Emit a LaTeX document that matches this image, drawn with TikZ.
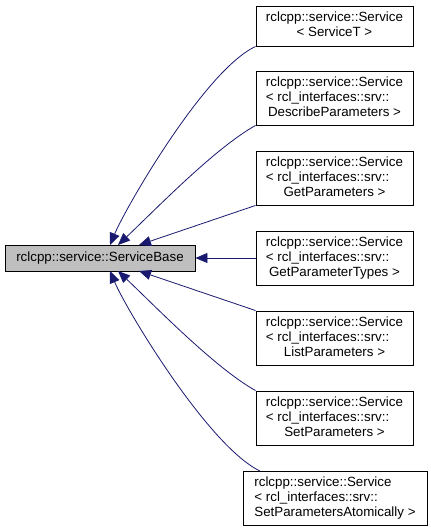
\documentclass[tikz,border=0pt]{standalone}
\usepackage{fontspec}
\setmainfont{Liberation Sans}
\usetikzlibrary{arrows.meta,calc}
\definecolor{edgeblue}{HTML}{191970}
\definecolor{basegray}{HTML}{BFBFBF}
\begin{document}
\begin{tikzpicture}[x=1pt,y=-1pt,
  box/.style={draw=black,line width=0.9pt,fill=white,inner sep=0pt,minimum width=157pt,align=center,
    font=\fontsize{13.33}{15}\selectfont},
  basebox/.style={box,fill=basegray,minimum width=190pt,minimum height=26pt},
  two/.style={minimum height=40pt},
  three/.style={minimum height=54pt},
  inh/.style={draw=edgeblue,line width=0.8pt,-{Triangle[length=12pt,width=10pt]},fill=none}
]
\useasboundingbox (0,0) rectangle (431,531);
\node[basebox] (base) at (100,258) {rclcpp::service::ServiceBase};
\node[box,two] (b1) at (334.5,26) {\begin{tabular}{@{}l@{}}rclcpp::service::Service\\\multicolumn{1}{@{}c@{}}{< ServiceT >}\end{tabular}};
\node[box,three] (b2) at (334.5,98) {\begin{tabular}{@{}l@{}}rclcpp::service::Service\\< rcl\_interfaces::srv::\\\multicolumn{1}{@{}c@{}}{DescribeParameters >}\end{tabular}};
\node[box,three] (b3) at (334.5,178) {\begin{tabular}{@{}l@{}}rclcpp::service::Service\\< rcl\_interfaces::srv::\\\multicolumn{1}{@{}c@{}}{GetParameters >}\end{tabular}};
\node[box,three] (b4) at (334.5,258) {\begin{tabular}{@{}l@{}}rclcpp::service::Service\\< rcl\_interfaces::srv::\\\multicolumn{1}{@{}c@{}}{GetParameterTypes >}\end{tabular}};
\node[box,three] (b5) at (334.5,338) {\begin{tabular}{@{}l@{}}rclcpp::service::Service\\< rcl\_interfaces::srv::\\\multicolumn{1}{@{}c@{}}{ListParameters >}\end{tabular}};
\node[box,three] (b6) at (334.5,418) {\begin{tabular}{@{}l@{}}rclcpp::service::Service\\< rcl\_interfaces::srv::\\\multicolumn{1}{@{}c@{}}{SetParameters >}\end{tabular}};
\node[box,three,minimum width=184pt] (b7) at (335,498) {\begin{tabular}{@{}l@{}}rclcpp::service::Service\\< rcl\_interfaces::srv::\\SetParametersAtomically >\end{tabular}};
\coordinate (t1) at (110,245);
\coordinate (t2) at (118,245);
\coordinate (t3) at (139,245);
\coordinate (t5) at (139,271);
\coordinate (t6) at (118,271);
\coordinate (t7) at (110,271);
\coordinate (s7) at (260,471);
\draw[inh] (b1.south west) .. controls (205,70) and (126,207) .. (t1);
\draw[inh] (b2.south west) .. controls (215,148) and (155,210) .. (t2);
\draw[inh] (b3.south west) -- (t3);
\draw[inh] (b4.west) -- (base.east);
\draw[inh] (b5.north west) -- (t5);
\draw[inh] (b6.north west) .. controls (215,368) and (155,306) .. (t6);
\draw[inh] (s7) .. controls (208,446) and (126,309) .. (t7);
\end{tikzpicture}
\end{document}
